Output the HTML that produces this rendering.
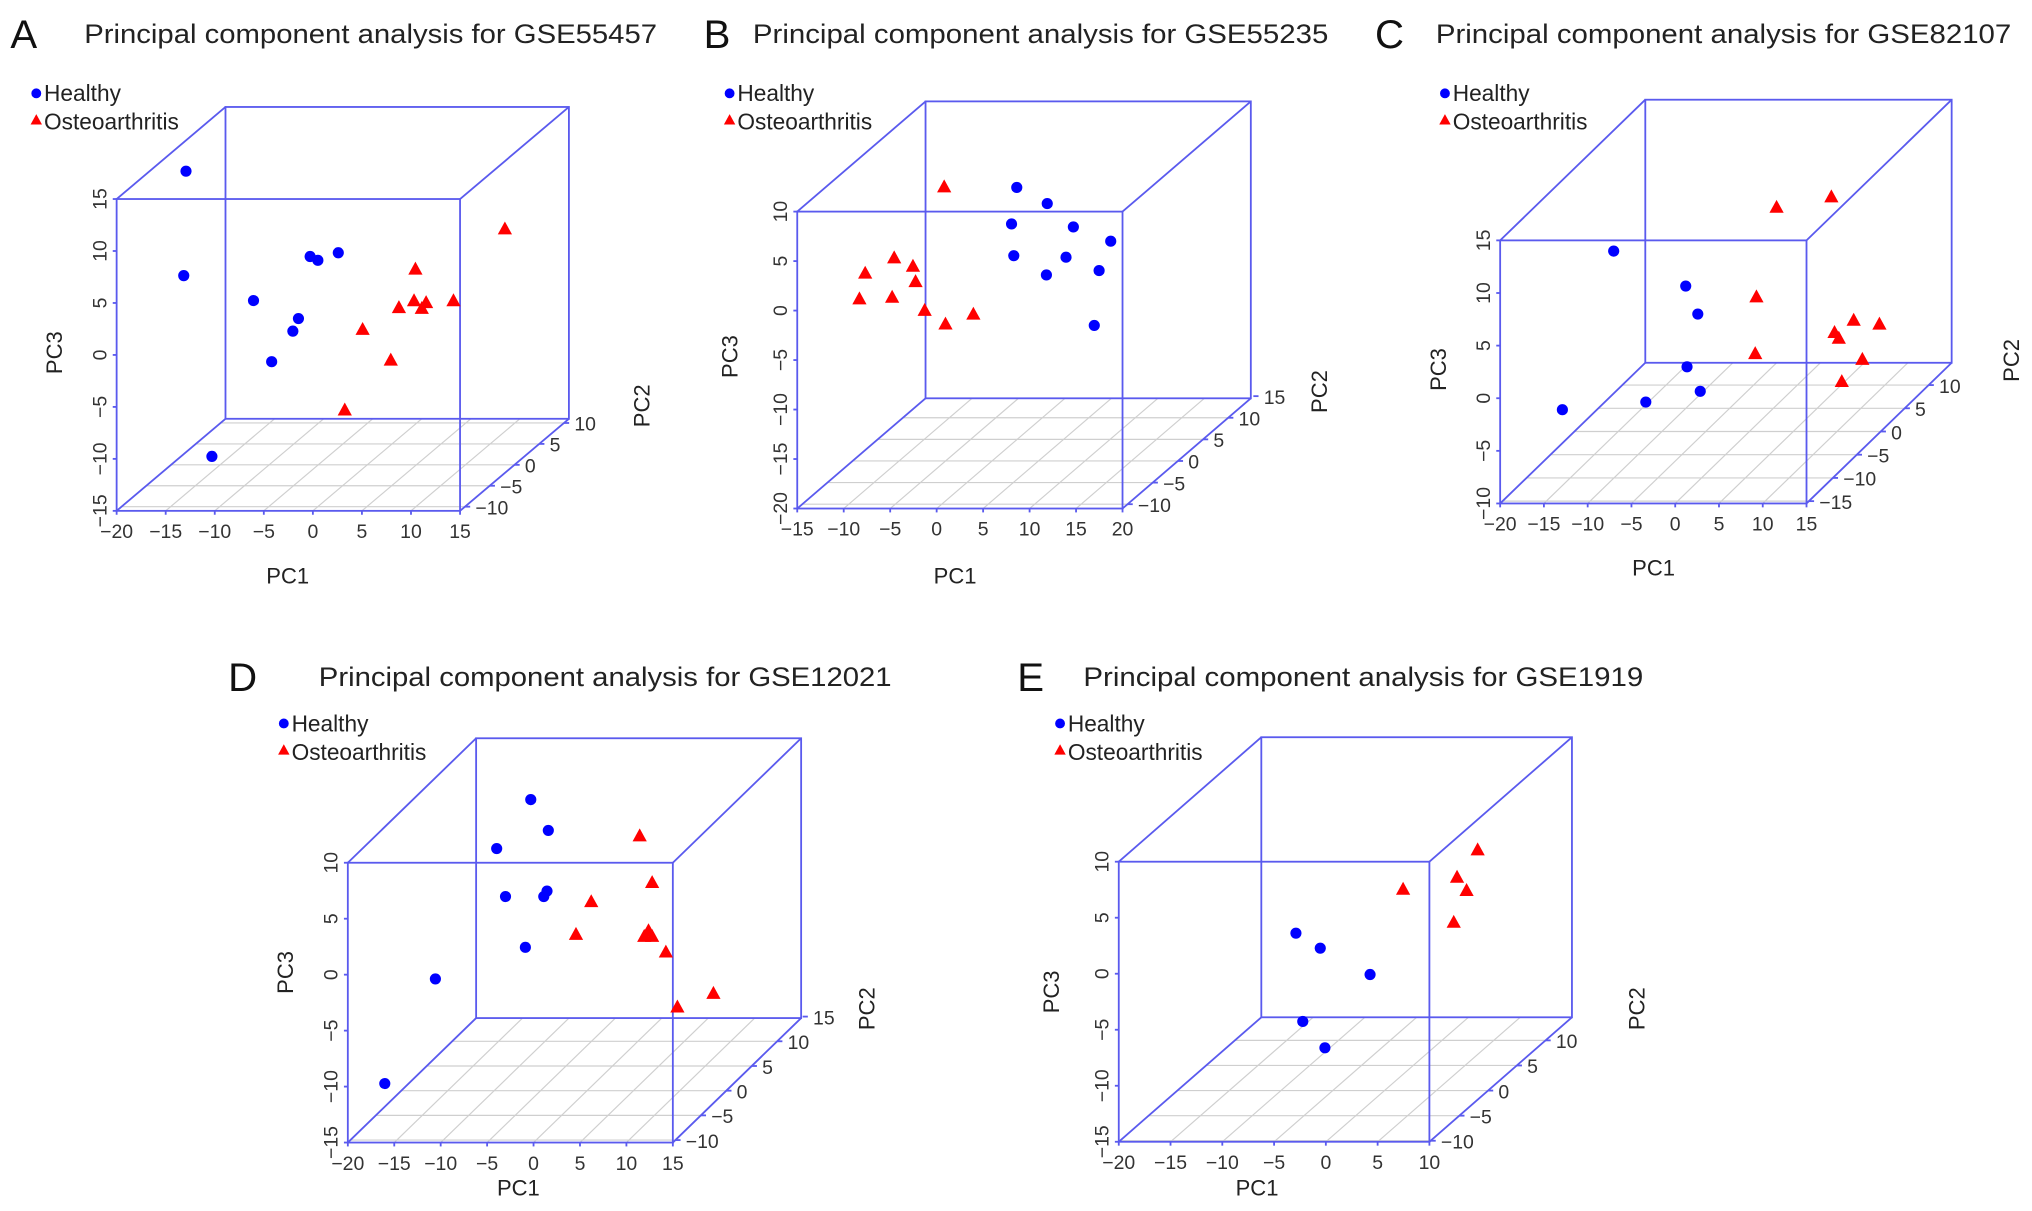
<!DOCTYPE html>
<html><head><meta charset="utf-8"><style>
html,body{margin:0;padding:0;background:#fff;}
svg{display:block;font-family:"Liberation Sans",sans-serif;}
</style></head><body>
<svg id="fig" width="2032" height="1211" viewBox="0 0 1568 934" preserveAspectRatio="none" xmlns="http://www.w3.org/2000/svg"></svg>
<script>
// ---- Data (PC1, PC2, PC3 per group, per panel) ----
const aHealthyPC1=[-12.93,-13.16,-6.05,-4.20,-2.04,-1.47,-0.28,0.51,2.59,-10.29];
const aHealthyPC2=[-11,-11,-11,-11,-11,-11,-11,-11,-11,-11];
const aHealthyPC3=[17.68,7.63,5.23,-0.65,2.29,3.5,9.47,9.1,9.83,-9.76];
const aOaPC1=[19.57,10.45,8.77,10.31,11.54,11.1,14.33,5.07,7.94,3.25];
const aOaPC2=[-11,-11,-11,-11,-11,-11,-11,-11,-11,-11];
const aOaPC3=[12.07,8.2,4.5,5.16,4.98,4.42,5.16,2.4,-0.55,-5.35];

const bHealthyPC1=[8.62,11.9,8.06,14.71,18.73,8.3,13.92,11.81,17.48,16.96];
const bHealthyPC2=[-11,-11,-11,-11,-11,-11,-11,-11,-11,-11];
const bHealthyPC3=[12.44,10.81,8.75,8.45,7.01,5.55,5.39,3.6,4.04,-1.5];
const bOaPC1=[0.81,-4.57,-7.69,-2.55,-2.27,-8.31,-4.79,-1.29,0.95,3.95];
const bOaPC2=[-11,-11,-11,-11,-11,-11,-11,-11,-11,-11];
const bOaPC3=[12.44,5.27,3.72,4.42,2.87,1.13,1.29,-0.04,-1.42,-0.42];

const cHealthyPC1=[-7.03,1.2,2.58,1.35,2.86,-3.36,-12.89];
const cHealthyPC2=[-15.5,-15.5,-15.5,-15.5,-15.5,-15.5,-15.5];
const cHealthyPC3=[13.98,10.66,8.0,2.99,0.66,-0.36,-1.09];
const cOaPC1=[17.84,11.58,9.28,20.39,23.33,18.2,18.69,9.14,21.38,19.03];
const cOaPC2=[-15.5,-15.5,-15.5,-15.5,-15.5,-15.5,-15.5,-15.5,-15.5,-15.5];
const cOaPC3=[19.08,18.09,9.58,7.36,6.99,6.19,5.65,4.19,3.64,1.53];

const dHealthyPC1=[-0.3,1.59,-3.97,-3.02,1.45,1.1,-0.88,-10.57,-16.02];
const dHealthyPC2=[-10.5,-10.5,-10.5,-10.5,-10.5,-10.5,-10.5,-10.5,-10.5];
const dHealthyPC3=[15.64,12.89,11.27,6.98,7.47,6.98,2.44,-0.38,-9.73];
const dOaPC1=[11.43,12.77,6.21,4.57,11.92,12.77,12.38,14.25,19.37,15.49];
const dOaPC2=[-10.5,-10.5,-10.5,-10.5,-10.5,-10.5,-10.5,-10.5,-10.5,-10.5];
const dOaPC3=[12.35,8.18,6.47,3.55,3.37,3.37,3.88,1.97,-1.72,-2.94];

const eHealthyPC1=[-2.89,-0.54,4.27,-2.23,-0.09];
const eHealthyPC2=[-10.2,-10.2,-10.2,-10.2,-10.2];
const eHealthyPC3=[3.62,2.28,-0.07,-4.26,-6.61];
const eOaPC1=[14.66,12.67,13.59,7.46,12.35];
const eOaPC2=[-10.2,-10.2,-10.2,-10.2,-10.2];
const eOaPC3=[11.01,8.56,7.38,7.49,4.54];

// ---- Tick labels ----
const aPC1Ticks=[-20,-15,-10,-5,0,5,10,15], aPC2Ticks=[-10,-5,0,5,10], aPC3Ticks=[-15,-10,-5,0,5,10,15];
const bPC1Ticks=[-15,-10,-5,0,5,10,15,20], bPC2Ticks=[-10,-5,0,5,10,15], bPC3Ticks=[-20,-15,-10,-5,0,5,10];
const cPC1Ticks=[-20,-15,-10,-5,0,5,10,15], cPC2Ticks=[-15,-10,-5,0,5,10], cPC3Ticks=[-10,-5,0,5,10,15];
const dPC1Ticks=[-20,-15,-10,-5,0,5,10,15], dPC2Ticks=[-10,-5,0,5,10,15], dPC3Ticks=[-15,-10,-5,0,5,10];
const ePC1Ticks=[-20,-15,-10,-5,0,5,10], ePC2Ticks=[-10,-5,0,5,10], ePC3Ticks=[-15,-10,-5,0,5,10];

const NS='http://www.w3.org/2000/svg';
const svg=document.getElementById('fig');
function el(tag,attrs,parent){const e=document.createElementNS(NS,tag);for(const k in attrs)e.setAttribute(k,attrs[k]);(parent||svg).appendChild(e);return e;}
const BOX='#5a5aee';

const panels=[
 {id:'a',letter:'A',title:'Principal component analysis for GSE55457',lx:8,tx:65,ty:33,tw:442,
  fl:90,fr:355,ft:153.5,fb:394,ox:84,oy:-71,xr:[-20,15],zr:[-15,15],yr:[-11,11],
  legX:28,legY:72,pc3:[42,272],pc1:[222,450],pc2:[495,313],
  x:aPC1Ticks,y:aPC2Ticks,z:aPC3Ticks,h:[aHealthyPC1,aHealthyPC2,aHealthyPC3],o:[aOaPC1,aOaPC2,aOaPC3]},
 {id:'b',letter:'B',title:'Principal component analysis for GSE55235',lx:543,tx:581,ty:33,tw:444,
  fl:615.2,fr:866.2,ft:163.2,fb:392.2,ox:99,oy:-85,xr:[-15,20],zr:[-20,10],yr:[-11,14.5],
  legX:563,legY:72,pc3:[563,275],pc1:[737,450],pc2:[1018,302],
  x:bPC1Ticks,y:bPC2Ticks,z:bPC3Ticks,h:[bHealthyPC1,bHealthyPC2,bHealthyPC3],o:[bOaPC1,bOaPC2,bOaPC3]},
 {id:'c',letter:'C',title:'Principal component analysis for GSE82107',lx:1061,tx:1108,ty:33,tw:444,
  fl:1157.6,fr:1394,ft:185.4,fb:388.3,ox:112,oy:-108.5,xr:[-20,15],zr:[-10,15],yr:[-15.5,14.8],
  legX:1115,legY:72,pc3:[1110,285],pc1:[1276,444],pc2:[1552,278],
  x:cPC1Ticks,y:cPC2Ticks,z:cPC3Ticks,h:[cHealthyPC1,cHealthyPC2,cHealthyPC3],o:[cOaPC1,cOaPC2,cOaPC3]},
 {id:'d',letter:'D',title:'Principal component analysis for GSE12021',lx:176,tx:246,ty:529,tw:442,
  fl:268.4,fr:519.2,ft:665.4,fb:881.2,ox:99,oy:-96,xr:[-20,15],zr:[-15,10],yr:[-10.5,14.7],
  legX:219,legY:558,pc3:[220,750],pc1:[400,922],pc2:[669,778],
  x:dPC1Ticks,y:dPC2Ticks,z:dPC3Ticks,h:[dHealthyPC1,dHealthyPC2,dHealthyPC3],o:[dOaPC1,dOaPC2,dOaPC3]},
 {id:'e',letter:'E',title:'Principal component analysis for GSE1919',lx:785,tx:836,ty:529,tw:432,
  fl:863.3,fr:1103,ft:664.6,fb:880.6,ox:110,oy:-96,xr:[-20,10],zr:[-15,10],yr:[-10.2,14.6],
  legX:818,legY:558,pc3:[811,765],pc1:[970,922],pc2:[1263,778],
  x:ePC1Ticks,y:ePC2Ticks,z:ePC3Ticks,h:[eHealthyPC1,eHealthyPC2,eHealthyPC3],o:[eOaPC1,eOaPC2,eOaPC3]}
];

function fmt(v){return v<0?'\u2212'+Math.abs(v):String(v);}
function tri(g,cx,cy,s){return el('polygon',{points:`${cx},${cy-s*0.62} ${cx-s*0.55},${cy+s*0.38} ${cx+s*0.55},${cy+s*0.38}`,fill:'#ff0000'},g);}

panels.forEach(p=>{
  const g=el('g',{});
  
  
  const sx=x=>p.fl+(x-p.xr[0])/(p.xr[1]-p.xr[0])*(p.fr-p.fl);
  const sz=z=>p.fb-(z-p.zr[0])/(p.zr[1]-p.zr[0])*(p.fb-p.ft);
  const ty=y=>(y-p.yr[0])/(p.yr[1]-p.yr[0]);
  const PX=(x,y,z)=>sx(x)+ty(y)*p.ox, PY=(x,y,z)=>sz(z)+ty(y)*p.oy;

  const L=el('text',{x:p.lx,y:p.ty+4,'font-size':31,fill:'#111'},g);L.textContent=p.letter;
  
  
  const T=el('text',{x:p.tx,y:p.ty,'font-size':20.5,fill:'#222',textLength:p.tw,lengthAdjust:'spacingAndGlyphs'},g);T.textContent=p.title;
  
  

  const grid=el('g',{stroke:'#cfcfcf','stroke-width':0.9},g);
  
  
  p.x.forEach(v=>{if(v<=p.xr[0]||v>=p.xr[1])return;
    el('line',{x1:sx(v),y1:p.fb,x2:sx(v)+p.ox,y2:p.fb+p.oy},grid);});
  p.y.forEach(v=>{if(v<=p.yr[0]||v>=p.yr[1])return;const t=ty(v);
    el('line',{x1:p.fl+t*p.ox,y1:p.fb+t*p.oy,x2:p.fr+t*p.ox,y2:p.fb+t*p.oy},grid);});

  const box=el('g',{stroke:BOX,'stroke-width':1.4,fill:'none'},g);
  
  
  el('rect',{x:p.fl+p.ox,y:p.ft+p.oy,width:p.fr-p.fl,height:p.fb-p.ft},box);
  el('rect',{x:p.fl,y:p.ft,width:p.fr-p.fl,height:p.fb-p.ft},box);
  [[p.fl,p.ft],[p.fr,p.ft],[p.fl,p.fb],[p.fr,p.fb]].forEach(c=>el('line',{x1:c[0],y1:c[1],x2:c[0]+p.ox,y2:c[1]+p.oy},box));

  const xa=el('g',{},g);
  
  
  p.x.forEach(v=>{const X=sx(v);
    el('line',{x1:X,y1:p.fb,x2:X,y2:p.fb+3,stroke:BOX,'stroke-width':1.4},xa);
    const t=el('text',{x:X,y:p.fb+21,'font-size':15,'text-anchor':'middle',fill:'#333'},xa);t.textContent=fmt(v);});
  const za=el('g',{},g);
  
  
  p.z.forEach(v=>{const Y=sz(v);
    el('line',{x1:p.fl-3,y1:Y,x2:p.fl,y2:Y,stroke:BOX,'stroke-width':1.4},za);
    const t=el('text',{x:0,y:0,'font-size':15,'text-anchor':'middle',fill:'#333',transform:`translate(${p.fl-8},${Y}) rotate(-90)`},za);t.textContent=fmt(v);});
  const ya=el('g',{},g);
  
  
  p.y.forEach(v=>{const t=ty(v);const X=p.fr+t*p.ox,Y=p.fb+t*p.oy;
    el('line',{x1:X,y1:Y,x2:X+4,y2:Y,stroke:BOX,'stroke-width':1.4},ya);
    const tx=el('text',{x:X+8,y:Y+6,'font-size':15,fill:'#333'},ya);tx.textContent=fmt(v);});

  const a3=el('text',{x:0,y:0,'font-size':17,'text-anchor':'middle',fill:'#222',transform:`translate(${p.pc3[0]+6},${p.pc3[1]}) rotate(-90)`},g);a3.textContent='PC3';
  
  
  const a1=el('text',{x:p.pc1[0],y:p.pc1[1],'font-size':17,'text-anchor':'middle',fill:'#222'},g);a1.textContent='PC1';
  
  
  const a2=el('text',{x:0,y:0,'font-size':17,'text-anchor':'middle',fill:'#222',transform:`translate(${p.pc2[0]+6},${p.pc2[1]}) rotate(-90)`},g);a2.textContent='PC2';
  
  

  const hs=el('g',{},g);
  
  
  p.h[0].forEach((v,i)=>{const c=el('circle',{cx:PX(v,p.h[1][i],p.h[2][i]),cy:PY(v,p.h[1][i],p.h[2][i]),r:4.3,fill:'#0000ff'},hs);
    
    });
  const os=el('g',{},g);
  
  
  p.o[0].forEach((v,i)=>{const t=tri(os,PX(v,p.o[1][i],p.o[2][i]),PY(v,p.o[1][i],p.o[2][i]),10);
    
    });

  const lg=el('g',{},g);
  
  
  const e1=el('g',{},lg);
  
  
  el('circle',{cx:p.legX,cy:p.legY,r:3.8,fill:'#0000ff'},e1);
  const lt1=el('text',{x:p.legX+6,y:p.legY+6,'font-size':17.5,fill:'#222'},e1);lt1.textContent='Healthy';
  const e2=el('g',{},lg);
  
  
  tri(e2,p.legX,p.legY+21,8);
  const lt2=el('text',{x:p.legX+6,y:p.legY+28,'font-size':17.5,fill:'#222'},e2);lt2.textContent='Osteoarthritis';
});
</script>
</body></html>
